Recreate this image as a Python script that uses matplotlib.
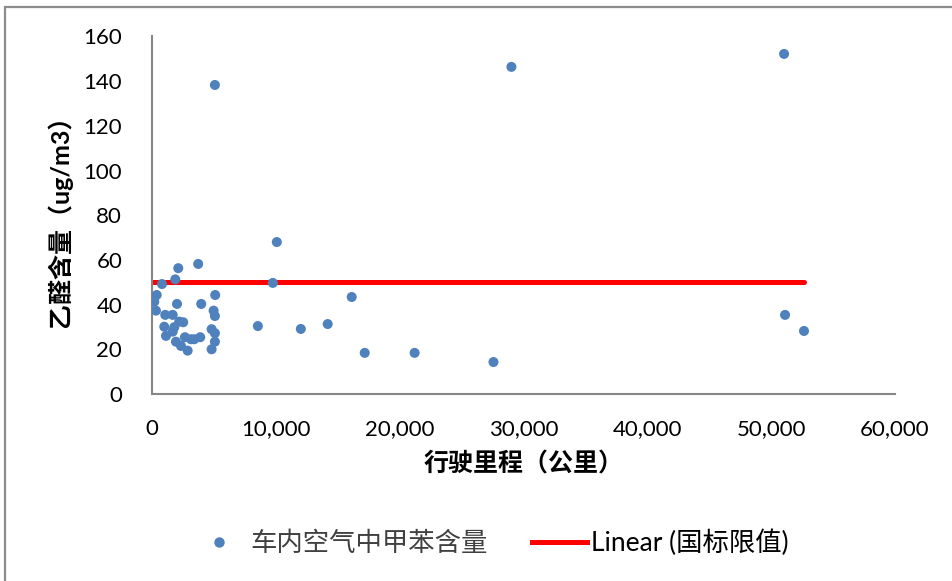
import matplotlib
matplotlib.use("Agg")
import matplotlib.pyplot as plt
from matplotlib.lines import Line2D
from matplotlib.patches import Rectangle
from matplotlib.ticker import FuncFormatter

plt.rcParams['font.family'] = ['Lato', 'Noto Sans CJK SC', 'DejaVu Sans']

# 行驶里程（公里）与车内乙醛含量（ug/m3）
mileage = [
    380, 185, 320, 806, 1070, 990, 1130, 1670, 1800, 1670,
    1880, 2020, 2120, 2200, 2520, 1935, 2340, 2660, 2880, 3145,
    3410, 3730, 3895, 3975, 4815, 4815, 4975, 5105, 5080, 5080,
    5080, 5080, 8550, 9760, 10080, 12020, 14190, 16130, 17180, 21210,
    27580, 29030, 51050, 51130, 52660,
]
acetaldehyde = [
    44.3, 41.3, 37.3, 49.2, 35.4, 30.1, 26.0, 35.4, 29.9, 27.9,
    51.3, 40.3, 56.3, 32.4, 32.1, 23.4, 21.5, 25.4, 19.4, 24.5,
    24.5, 58.2, 25.4, 40.3, 29.0, 20.0, 37.3, 44.3, 34.9, 27.2,
    23.4, 138.3, 30.4, 49.7, 68.0, 29.1, 31.3, 43.4, 18.4, 18.4,
    14.3, 146.4, 152.2, 35.4, 28.2,
]
limit_value = 50  # 国标限值

x_ticks = [0, 10000, 20000, 30000, 40000, 50000, 60000]
y_ticks = [0, 20, 40, 60, 80, 100, 120, 140, 160]

fig = plt.figure(figsize=(9.53, 5.81), dpi=100)
ax = fig.add_axes([0.1595, 0.3219, 0.7795, 0.6153])

blue = '#4F81BD'
spine_gray = '#868686'
mixed_font = ['Lato', 'Noto Sans CJK SC']

ax.scatter(mileage, acetaldehyde, s=52, color=blue, edgecolors='none', zorder=3)
ax.plot([0, max(mileage)], [limit_value, limit_value], color='#FF0000',
        lw=3.6, solid_capstyle='round', zorder=2)

ax.set_xlim(x_ticks[0], x_ticks[-1])
ax.set_ylim(y_ticks[0], y_ticks[-1])
ax.set_xticks(x_ticks)
ax.set_yticks(y_ticks)
ax.xaxis.set_major_formatter(FuncFormatter(lambda v, p: f"{int(v):,}"))
ax.tick_params(axis='both', length=0, labelsize=16, colors='black')
ax.tick_params(axis='x', pad=18)
ax.tick_params(axis='y', pad=21.5)

for side in ('top', 'right'):
    ax.spines[side].set_visible(False)
for side in ('left', 'bottom'):
    ax.spines[side].set_color(spine_gray)
    ax.spines[side].set_linewidth(1.5)

ax.set_xlabel('行驶里程（公里）', fontsize=18, fontweight='bold',
              family=mixed_font, labelpad=9)
ax.set_ylabel('乙醛含量（ug/m3）', fontsize=18, fontweight='bold',
              family=mixed_font, labelpad=8)

handles = [
    Line2D([], [], ls='none', marker='o', markersize=7.5, color=blue,
           markeredgewidth=0),
    Line2D([], [], color='#FF0000', lw=3.6),
]
labels = ['车内空气中甲苯含量', 'Linear (国标限值)']
leg = fig.legend(handles, labels, loc='center', bbox_to_anchor=(0.514, 0.0654),
                 ncol=2, frameon=False, handlelength=2.08,
                 handletextpad=0.15, columnspacing=1.7,
                 prop={'family': mixed_font, 'size': 19})
leg.get_texts()[0].set_color('#404040')

fig.patches.append(Rectangle((4.5 / 953, -0.1), 2.0, 1.1 - 6.5 / 581,
                             transform=fig.transFigure, fill=False,
                             edgecolor='#8C8C8C', lw=1.6))

fig.savefig('out.png', dpi=100, facecolor='white')
